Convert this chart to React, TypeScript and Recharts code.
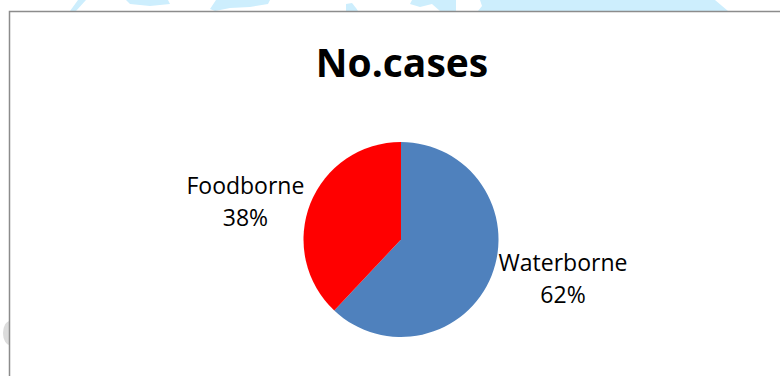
import React from "react";
import { PieChart, Pie, Cell } from "recharts";

const categories = ["Waterborne", "Foodborne"];
const values = [62, 38];
const colors = ["#4F81BD", "#FF0000"];
const title = "No.cases";

const data = categories.map((name, i) => ({ name, value: values[i] }));

const RAD = Math.PI / 180;

const renderLabel = (props: any) => {
  const { cx, cy, midAngle, outerRadius, name, percent } = props;
  const c = Math.cos(-midAngle * RAD);
  const s = Math.sin(-midAngle * RAD);
  const half = String(name).length * 6.4;
  const x = cx + (c >= 0 ? 1 : -1) * (outerRadius + 0.5 + half);
  const yc = cy + s * (outerRadius + 7);
  return (
    <text
      x={x}
      y={yc}
      textAnchor="middle"
      fill="#000"
      style={{ fontFamily: "'Open Sans', sans-serif", fontSize: 23 }}
    >
      <tspan x={x} y={yc - 7}>{name}</tspan>
      <tspan x={x} y={yc + 25}>{`${Math.round(percent * 100)}%`}</tspan>
    </text>
  );
};

const wm = "#cdeefd";

export default function App() {
  return (
    <div style={{ position: "absolute", left: 0, top: 0, width: 780, height: 376, background: "#fff" }}>
      <svg width={780} height={376} style={{ position: "absolute", left: 0, top: 0 }}>
        <polygon points="78,0 86,0 76,11 70,11" fill={wm} />
        <polygon points="126,0 168,0 170,4 150,6 130,4" fill={wm} />
        <polygon points="216,0 270,0 268,4 250,7 230,8 215,11 210,9" fill={wm} />
        <polygon points="346,4 352,3 356,8 358,11 346,11" fill={wm} />
        <polygon points="412,0 456,0 456,11 440,11 432,4 420,7 410,4" fill={wm} />
        <polygon points="480,0 715,0 728,11 478,11 482,6" fill={wm} />
        <ellipse cx={10} cy={333} rx={7} ry={12} fill="#dcdcdc" />
      </svg>
      <div style={{ position: "absolute", left: 0, top: 0 }}>
        <PieChart width={780} height={376} margin={{ top: 0, right: 0, bottom: 0, left: 0 }}>
          <rect x={9.5} y={11.5} width={800} height={400} fill="#fff" stroke="#8c8c8c" strokeWidth={1.5} />
          <text
            x={402}
            y={77}
            textAnchor="middle"
            fill="#000"
            style={{ fontFamily: "'Open Sans', sans-serif", fontSize: 39, fontWeight: 700 }}
          >
            {title}
          </text>
          <Pie
            data={data}
            dataKey="value"
            nameKey="name"
            cx={401}
            cy={239.5}
            outerRadius={97.5}
            startAngle={90}
            endAngle={-270}
            stroke="none"
            label={renderLabel}
            labelLine={false}
            isAnimationActive={false}
          >
            {data.map((d, i) => (
              <Cell key={d.name} fill={colors[i]} />
            ))}
          </Pie>
        </PieChart>
      </div>
    </div>
  );
}
